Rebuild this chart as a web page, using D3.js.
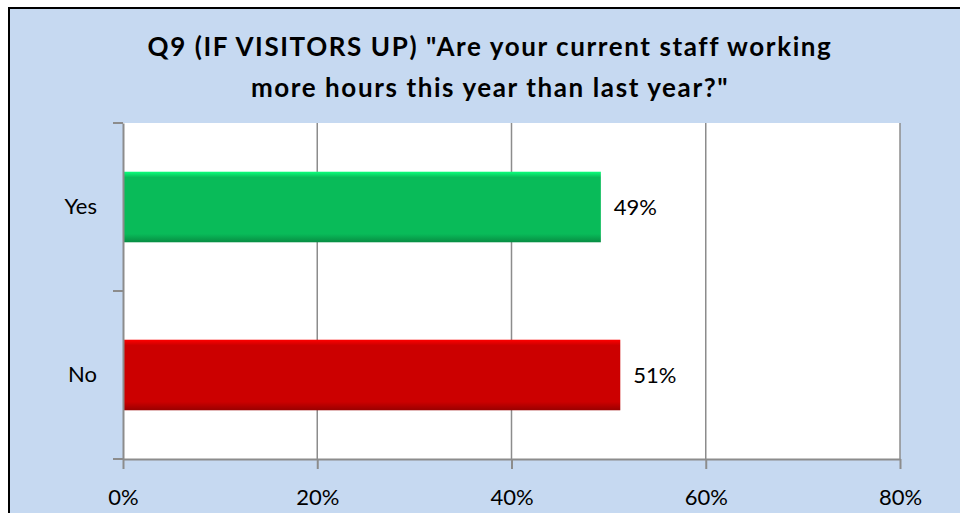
<!DOCTYPE html>
<html>
<head>
<meta charset="utf-8">
<script src="https://cdn.jsdelivr.net/npm/d3@7"></script>
<style>
  body { margin: 0; background: #fff; }
  text { font-family: Lato, "Open Sans", sans-serif; fill: #000; }
</style>
</head>
<body>
<div id="chart"></div>
<script>
var categories = ['Yes', 'No'];
var values = [49.2, 51.2];
var valueLabels = ['49%', '51%'];
var barColors = ['#09BB59', '#CC0000'];
var tickValues = [0, 20, 40, 60, 80];
var titleLines = ['Q9 (IF VISITORS UP) "Are your current staff working', 'more hours this year than last year?"'];

(function() {
  var W = 960, H = 513;
  var margin = { top: 123, left: 123, right: 60, bottom: 54 };
  var width = W - margin.left - margin.right,
      height = H - margin.top - margin.bottom;
  var labelFont = '22px';

  var svg = d3.select('#chart').append('svg')
    .attr('width', W).attr('height', H);

  // chart background + border
  svg.append('rect')
    .attr('x', 9).attr('y', 8).attr('width', W + 10).attr('height', H + 10)
    .attr('fill', '#C6D9F1').attr('stroke', '#000').attr('stroke-width', 2);

  svg.selectAll('.title')
    .data(titleLines)
    .enter().append('text')
    .attr('class', 'title')
    .attr('x', 490)
    .attr('y', function(d, i) { return 56 + i * 41; })
    .attr('text-anchor', 'middle')
    .style('font-size', '26px')
    .style('font-weight', 'bold')
    .style('letter-spacing', '1.6px')
    .text(function(d) { return d; });

  var defs = svg.append('defs');
  barColors.forEach(function(c, i) {
    var g = defs.append('linearGradient').attr('id', 'bev' + i)
      .attr('x1', '0%').attr('y1', '0%').attr('x2', '0%').attr('y2', '100%');
    var base = d3.color(c);
    g.append('stop').attr('offset', '0%').attr('stop-color', base.brighter(0.9));
    g.append('stop').attr('offset', '8%').attr('stop-color', base);
    g.append('stop').attr('offset', '88%').attr('stop-color', base);
    g.append('stop').attr('offset', '100%').attr('stop-color', base.darker(0.8));
  });

  var g = svg.append('g')
    .attr('transform', 'translate(' + margin.left + ',' + margin.top + ')');

  var x = d3.scaleLinear().domain([0, 80]).range([0, width]);
  var y = d3.scaleBand().domain(categories).range([0, height]).paddingInner(0.58).paddingOuter(0.29);

  g.append('rect')
    .attr('width', width).attr('height', height).attr('fill', '#fff');

  // gridlines
  g.selectAll('.grid')
    .data(tickValues.slice(1))
    .enter().append('line')
    .attr('x1', function(d) { return x(d); }).attr('x2', function(d) { return x(d); })
    .attr('y1', 0).attr('y2', height)
    .attr('stroke', '#8C8C8C').attr('stroke-width', 1.5);

  // bars
  g.selectAll('.bar')
    .data(categories)
    .enter().append('rect')
    .attr('class', 'bar')
    .attr('x', 0)
    .attr('y', function(d) { return y(d); })
    .attr('width', function(d, i) { return x(values[i]); })
    .attr('height', y.bandwidth())
    .attr('fill', function(d, i) { return 'url(#bev' + i + ')'; });

  g.selectAll('.bar-label')
    .data(categories)
    .enter().append('text')
    .attr('x', function(d, i) { return x(values[i]) + 13; })
    .attr('y', function(d) { return y(d) + y.bandwidth() / 2; })
    .attr('dy', '0.35em')
    .style('font-size', labelFont)
    .text(function(d, i) { return valueLabels[i]; });

  // x axis
  var xAxis = g.append('g')
    .attr('transform', 'translate(0,' + height + ')')
    .call(d3.axisBottom(x).tickValues(tickValues).tickFormat(function(d) { return d + '%'; })
      .tickSizeInner(10).tickSizeOuter(0));
  xAxis.select('.domain').attr('stroke', '#8C8C8C').attr('stroke-width', 2);
  xAxis.selectAll('.tick line').attr('stroke', '#8C8C8C').attr('stroke-width', 2);
  xAxis.selectAll('text').attr('y', 46).attr('dy', 0)
    .style('font-size', labelFont).style('font-family', 'Lato, "Open Sans", sans-serif').attr('fill', '#000');

  // y axis
  var yAxis = g.append('g')
    .call(d3.axisLeft(y).tickSize(0).tickPadding(26));
  yAxis.select('.domain').attr('stroke', '#8C8C8C').attr('stroke-width', 2);
  yAxis.selectAll('text').style('font-size', labelFont).style('font-family', 'Lato, "Open Sans", sans-serif').attr('fill', '#000');

  // category separators
  var step = height / categories.length;
  g.selectAll('.ytick')
    .data(d3.range(categories.length + 1))
    .enter().append('line')
    .attr('x1', -10).attr('x2', 0)
    .attr('y1', function(d) { return d * step; }).attr('y2', function(d) { return d * step; })
    .attr('stroke', '#8C8C8C').attr('stroke-width', 2);
})();
</script>
</body>
</html>
